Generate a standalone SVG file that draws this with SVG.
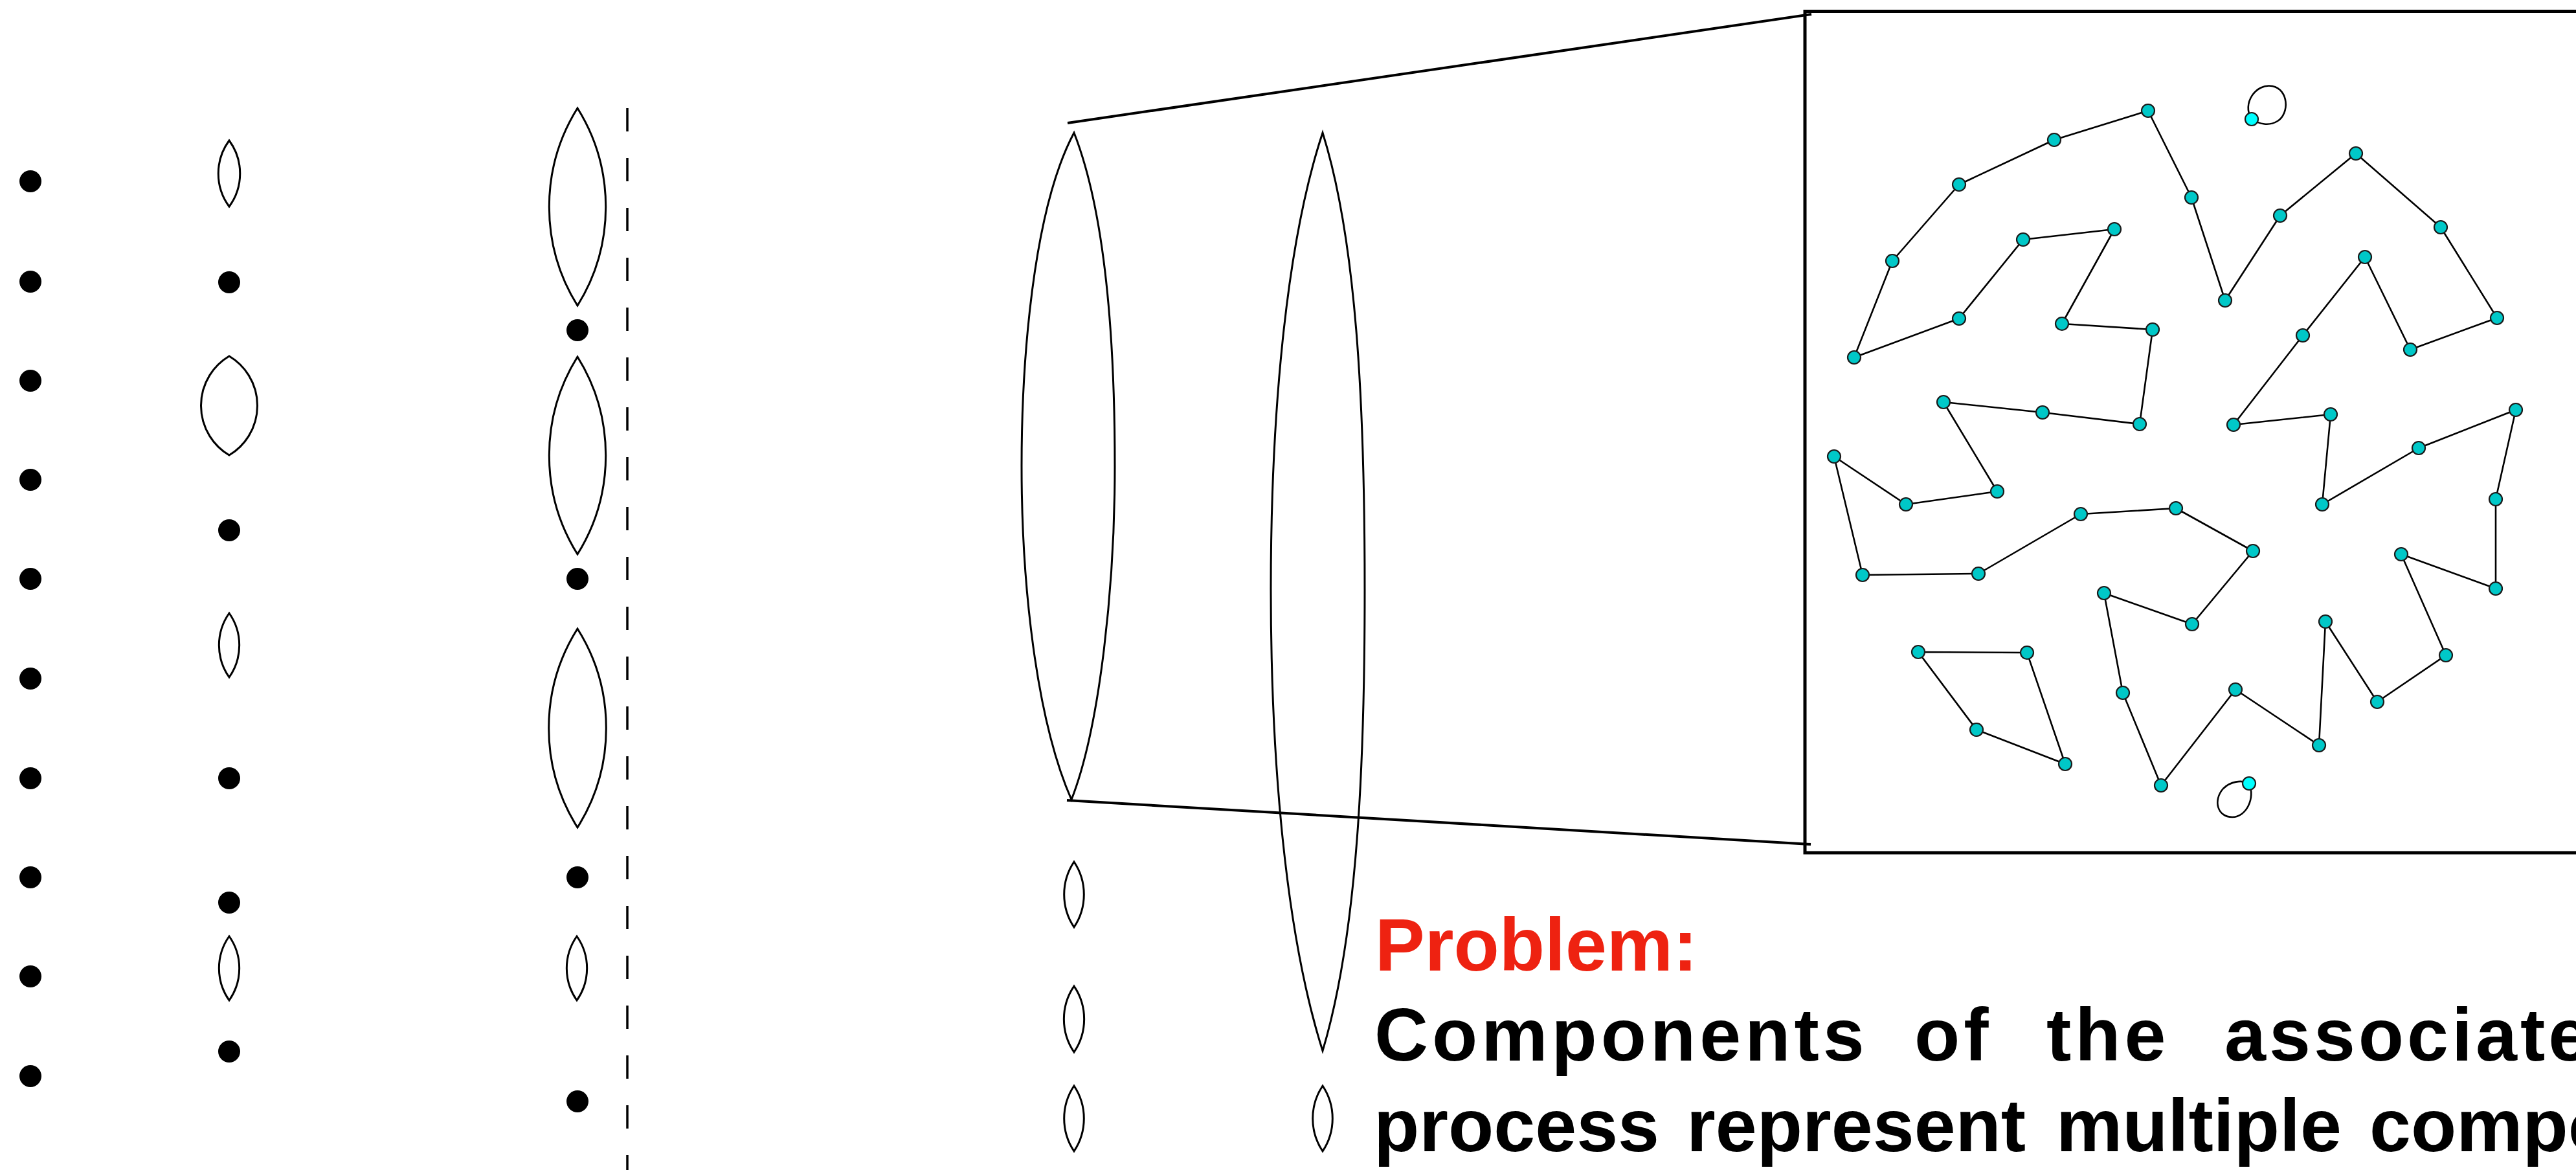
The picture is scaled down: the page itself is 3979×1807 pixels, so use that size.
<svg xmlns="http://www.w3.org/2000/svg" width="3979" height="1807" viewBox="0 0 3979 1807">
<style>
.dot{fill:#000}
.lens{fill:none;stroke:#000;stroke-width:3}
.ln{fill:none;stroke:#000;stroke-width:4}
.edge{fill:none;stroke:#000;stroke-width:2.6;stroke-linejoin:round}
.node{fill:#00c8c8;stroke:#1a1a1a;stroke-width:2.2}
.node2{fill:#00ffff;stroke:#1a1a1a;stroke-width:2.2}
.t{font-family:"Liberation Sans",Arial,Helvetica,sans-serif;font-weight:bold;font-size:115px;fill:#000}
.red{fill:#ee2211}
</style>
<rect width="3979" height="1807" fill="#fff"/>

<g id="col1">
<circle class="dot" cx="47" cy="280" r="17"/>
<circle class="dot" cx="47" cy="435" r="17"/>
<circle class="dot" cx="47" cy="588" r="17"/>
<circle class="dot" cx="47" cy="741" r="17"/>
<circle class="dot" cx="47" cy="894" r="17"/>
<circle class="dot" cx="47" cy="1048" r="17"/>
<circle class="dot" cx="47" cy="1202" r="17"/>
<circle class="dot" cx="47" cy="1355" r="17"/>
<circle class="dot" cx="47" cy="1508" r="17"/>
<circle class="dot" cx="47" cy="1662" r="17"/>
</g>

<g id="col2">
<path class="lens" d="M354,217 A86,86 0 0 1 354,319 A86,86 0 0 1 354,217 Z"/>
<circle class="dot" cx="354" cy="436" r="17"/>
<path class="lens" d="M354,550 A89,89 0 0 1 354,703 A89,89 0 0 1 354,550 Z"/>
<circle class="dot" cx="354" cy="819" r="17"/>
<path class="lens" d="M354,947 A86,86 0 0 1 354,1046 A86,86 0 0 1 354,947 Z"/>
<circle class="dot" cx="354" cy="1202" r="17"/>
<circle class="dot" cx="354" cy="1394" r="17"/>
<path class="lens" d="M354,1446 A86,86 0 0 1 354,1545 A86,86 0 0 1 354,1446 Z"/>
<circle class="dot" cx="354" cy="1624" r="17"/>
</g>

<g id="col3">
<path class="lens" d="M892,167 A288,288 0 0 1 892,472 A288,288 0 0 1 892,167 Z"/>
<circle class="dot" cx="892" cy="510" r="17"/>
<path class="lens" d="M892,551 A288,288 0 0 1 892,856 A288,288 0 0 1 892,551 Z"/>
<circle class="dot" cx="892" cy="894" r="17"/>
<path class="lens" d="M892,971 A288,288 0 0 1 892,1278 A288,288 0 0 1 892,971 Z"/>
<circle class="dot" cx="892" cy="1355" r="17"/>
<path class="lens" d="M891,1446 A86,86 0 0 1 891,1545 A86,86 0 0 1 891,1446 Z"/>
<circle class="dot" cx="892" cy="1701" r="17"/>
</g>

<line id="divider" x1="969" y1="167" x2="969" y2="1807" stroke="#000" stroke-width="3.5" stroke-dasharray="36 41"/>

<g id="bigLenses">
<path class="lens" d="M1659,205 C1595,325 1578,560 1578,720 C1578,900 1600,1110 1655,1235 C1700,1120 1722,900 1722,720 C1722,530 1708,330 1659,205 Z"/>
<path class="lens" d="M2043,205 C1985,380 1963,650 1963,910 C1963,1170 1985,1440 2043,1623 C2098,1440 2108,1170 2108,910 C2108,650 2098,380 2043,205 Z"/>
<path class="lens" d="M1659,1331 A91,91 0 0 1 1659,1432 A91,91 0 0 1 1659,1331 Z"/>
<path class="lens" d="M1659,1523 A91,91 0 0 1 1659,1625 A91,91 0 0 1 1659,1523 Z"/>
<path class="lens" d="M1659,1677 A91,91 0 0 1 1659,1778 A91,91 0 0 1 1659,1677 Z"/>
<path class="lens" d="M2043,1677 A91,91 0 0 1 2043,1778 A91,91 0 0 1 2043,1677 Z"/>
</g>

<g id="connectors">
<line class="ln" x1="1649" y1="190" x2="2798" y2="22"/>
<line class="ln" x1="1648" y1="1236" x2="2797" y2="1304"/>
</g>

<rect id="zoomBox" x="2788" y="17.5" width="1300" height="1299.5" fill="none" stroke="#000" stroke-width="5"/>

<g id="graph">
<g id="graphEdges">
<polyline class="edge" points="3002,621 3155,637 3305,655 3325,509 3185,500 3266,354 3125,370 3026,492 2864,552 2923,403 3026,285 3173,216 3318,171 3385,305 3437,464 3522,333 3639,237 3770,351 3857,491 3723,540 3653,397 3557,518 3450,656 3600,640 3587,779 3736,692 3886,633 3855,771 3855,909 3709,856 3778,1012 3672,1084 3592,960 3582,1151 3453,1065 3338,1213 3279,1070 3250,916 3386,964 3480,851 3361,785 3214,794 3056,886 2877,888 2833,705 2944,779 3085,759 3002,621"/>
<polygon class="edge" points="2963,1007 3131,1008 3190,1180 3053,1127"/>
<path class="edge" d="M3478,184 C3462,160 3485,128 3510,133 C3535,138 3537,175 3518,187 C3505,195 3490,192 3478,184 Z"/>
<path class="edge" d="M3474,1210 C3484,1232 3470,1262 3448,1262 C3425,1262 3418,1236 3434,1218 C3445,1207 3462,1204 3474,1210 Z"/>
</g>
<g id="graphNodes">
<circle class="node" cx="3318" cy="171" r="10"/>
<circle class="node" cx="3173" cy="216" r="10"/>
<circle class="node" cx="3026" cy="285" r="10"/>
<circle class="node" cx="2923" cy="403" r="10"/>
<circle class="node" cx="2864" cy="552" r="10"/>
<circle class="node" cx="3026" cy="492" r="10"/>
<circle class="node" cx="3125" cy="370" r="10"/>
<circle class="node" cx="3266" cy="354" r="10"/>
<circle class="node" cx="3185" cy="500" r="10"/>
<circle class="node" cx="3325" cy="509" r="10"/>
<circle class="node" cx="3305" cy="655" r="10"/>
<circle class="node" cx="3155" cy="637" r="10"/>
<circle class="node" cx="3002" cy="621" r="10"/>
<circle class="node" cx="3385" cy="305" r="10"/>
<circle class="node" cx="3437" cy="464" r="10"/>
<circle class="node" cx="3522" cy="333" r="10"/>
<circle class="node" cx="3639" cy="237" r="10"/>
<circle class="node" cx="3770" cy="351" r="10"/>
<circle class="node" cx="3857" cy="491" r="10"/>
<circle class="node" cx="3723" cy="540" r="10"/>
<circle class="node" cx="3653" cy="397" r="10"/>
<circle class="node" cx="3557" cy="518" r="10"/>
<circle class="node" cx="3450" cy="656" r="10"/>
<circle class="node" cx="3600" cy="640" r="10"/>
<circle class="node" cx="3886" cy="633" r="10"/>
<circle class="node" cx="3736" cy="692" r="10"/>
<circle class="node" cx="2833" cy="705" r="10"/>
<circle class="node" cx="2944" cy="779" r="10"/>
<circle class="node" cx="3085" cy="759" r="10"/>
<circle class="node" cx="2877" cy="888" r="10"/>
<circle class="node" cx="3056" cy="886" r="10"/>
<circle class="node" cx="3214" cy="794" r="10"/>
<circle class="node" cx="3361" cy="785" r="10"/>
<circle class="node" cx="3480" cy="851" r="10"/>
<circle class="node" cx="3386" cy="964" r="10"/>
<circle class="node" cx="3250" cy="916" r="10"/>
<circle class="node" cx="3279" cy="1070" r="10"/>
<circle class="node" cx="3338" cy="1213" r="10"/>
<circle class="node" cx="3453" cy="1065" r="10"/>
<circle class="node" cx="3582" cy="1151" r="10"/>
<circle class="node" cx="3592" cy="960" r="10"/>
<circle class="node" cx="3672" cy="1084" r="10"/>
<circle class="node" cx="3778" cy="1012" r="10"/>
<circle class="node" cx="3709" cy="856" r="10"/>
<circle class="node" cx="3855" cy="909" r="10"/>
<circle class="node" cx="3855" cy="771" r="10"/>
<circle class="node" cx="3587" cy="779" r="10"/>
<circle class="node" cx="2963" cy="1007" r="10"/>
<circle class="node" cx="3131" cy="1008" r="10"/>
<circle class="node" cx="3053" cy="1127" r="10"/>
<circle class="node" cx="3190" cy="1180" r="10"/>
<circle class="node2" cx="3478" cy="184" r="10"/>
<circle class="node2" cx="3474" cy="1210" r="10"/>
</g>
</g>

<g id="caption">
<text class="t red" x="2124" y="1499">Problem:</text>
<text class="t" x="2123" y="1638" letter-spacing="6">Components</text>
<text class="t" x="2957" y="1638" letter-spacing="6">of</text>
<text class="t" x="3161" y="1638" letter-spacing="6">the</text>
<text class="t" x="3436" y="1638" letter-spacing="5">associate</text>
<text class="t" x="2122" y="1778">process</text>
<text class="t" x="2605" y="1778">represent</text>
<text class="t" x="3176" y="1778">multiple</text>
<text class="t" x="3660" y="1778">compo</text>
</g>
</svg>
